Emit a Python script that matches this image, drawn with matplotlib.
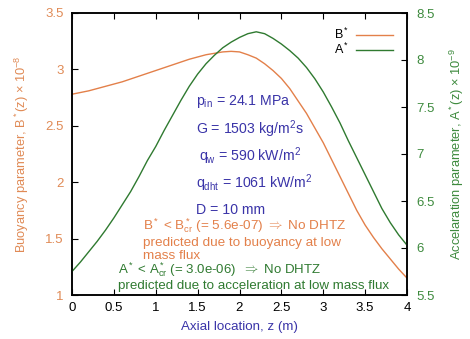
import matplotlib
matplotlib.use("Agg")
import matplotlib.pyplot as plt

plt.rcParams['font.family'] = ['Liberation Sans', 'DejaVu Sans']
plt.rcParams['mathtext.fontset'] = 'custom'
plt.rcParams['mathtext.rm'] = 'Liberation Sans'
plt.rcParams['mathtext.it'] = 'Liberation Sans'

z_b = [0, 0.2, 0.4, 0.6, 0.8, 1.0, 1.2, 1.4, 1.6, 1.8, 1.9, 2.0, 2.1, 2.2, 2.3, 2.4, 2.5,
       2.6, 2.7, 2.8, 2.9, 3.0, 3.1, 3.2, 3.3, 3.4, 3.5, 3.6, 3.7, 3.8, 3.9, 4.0]
b_vals = [2.78, 2.81, 2.85, 2.89, 2.94, 2.99, 3.04, 3.09, 3.13, 3.155, 3.16, 3.155, 3.13, 3.10, 3.05, 2.99, 2.92,
          2.83, 2.72, 2.61, 2.48, 2.35, 2.20, 2.05, 1.90, 1.75, 1.62, 1.51, 1.41, 1.32, 1.23, 1.15]
z_a = [0, 0.1, 0.2, 0.3, 0.4, 0.5, 0.6, 0.7, 0.8, 0.9, 1.0, 1.1, 1.2, 1.3, 1.4, 1.5, 1.6, 1.7, 1.8, 1.9, 2.0,
       2.1, 2.2, 2.3, 2.4, 2.5, 2.6, 2.7, 2.8, 2.9, 3.0, 3.1, 3.2, 3.3, 3.4, 3.5, 3.6, 3.7, 3.8, 3.9, 4.0]
a_vals = [5.75, 5.85, 5.96, 6.07, 6.19, 6.32, 6.46, 6.60, 6.76, 6.93, 7.08, 7.25, 7.41, 7.57, 7.72, 7.85, 7.96,
          8.05, 8.13, 8.19, 8.24, 8.28, 8.30, 8.28, 8.23, 8.17, 8.10, 8.02, 7.92, 7.80, 7.66, 7.50, 7.33,
          7.14, 6.96, 6.78, 6.60, 6.42, 6.27, 6.14, 6.03]

x_ticks = [0, 0.5, 1, 1.5, 2, 2.5, 3, 3.5, 4]
x_ticklabels = ['0', '0.5', '1', '1.5', '2', '2.5', '3', '3.5', '4']
b_ticks = [1, 1.5, 2, 2.5, 3, 3.5]
b_ticklabels = ['1', '1.5', '2', '2.5', '3', '3.5']
a_ticks = [5.5, 6, 6.5, 7, 7.5, 8, 8.5]
a_ticklabels = ['5.5', '6', '6.5', '7', '7.5', '8', '8.5']

orange = '#e3804a'
green = '#2f7a30'
blue = '#3a34a8'
tick_orange = '#e08a55'
tick_green = '#3d8a3d'

fig = plt.figure(figsize=(4.7, 3.39), dpi=100)
ax = fig.add_axes([72/470, 1-295/339, (407-72)/470, (295-13)/339])
ax2 = ax.twinx()

lb, = ax.plot(z_b, b_vals, color=orange, lw=1.0)
la, = ax2.plot(z_a, a_vals, color=green, lw=1.0)

ax.set_xlim(0, 4)
ax.set_ylim(1, 3.5)
ax2.set_ylim(5.5, 8.5)
ax.set_xticks(x_ticks)
ax.set_xticklabels(x_ticklabels)
ax.set_yticks(b_ticks)
ax.set_yticklabels(b_ticklabels)
ax2.set_yticks(a_ticks)
ax2.set_yticklabels(a_ticklabels)

ax.tick_params(axis='x', direction='in', top=True, length=4, labelsize=9.5, colors='black', pad=5)
ax.tick_params(axis='y', direction='in', length=4, labelsize=9.5, labelcolor=tick_orange, pad=6)
ax2.tick_params(axis='y', direction='in', length=4, labelsize=9.5, labelcolor=tick_green, pad=6.5)
for a in (ax, ax2):
    for s in a.spines.values():
        s.set_linewidth(1.1)

ax.set_xlabel('Axial location, z (m)', color=blue, fontsize=9.6, labelpad=5)
ax.set_ylabel(r'Buoyancy parameter, B$^*$(z) $\times$ 10$^{-8}$', color=tick_orange, fontsize=9.3, labelpad=10)
ax2.set_ylabel(r'Accelaration parameter, A$^*$(z) $\times$ 10$^{-9}$', color=tick_green, fontsize=9.3, labelpad=10)

# legend
ax.legend([lb, la], [r'B$^*$', r'A$^*$'], loc='upper right', frameon=False,
          fontsize=9, markerfirst=False, handlelength=3.0, handletextpad=0.5,
          labelspacing=0.0, borderaxespad=0.9, borderpad=0.2)

def px(x, y):
    return (x/470, 1 - y/339)

params = [r'p$_{\rm in}$ = 24.1 MPa', r'G = 1503 kg/m$^2$s', r'q$_{\rm w}$ = 590 kW/m$^2$',
          r'q$_{\rm dht}$ = 1061 kW/m$^2$', 'D = 10 mm']
ys = [102, 129, 156, 183, 210]
xs = [196, 196, 199, 196, 196]
for t, x, y in zip(params, xs, ys):
    fig.text(*px(x, y), t, color=blue, fontsize=10.2, va='center', ha='left')

fig.text(*px(143, 226), r'B$^*$ < B$^*_{\rm cr}$ (= 5.6e-07) $\Rightarrow$ No DHTZ', color=orange, fontsize=9.7, va='center')
fig.text(*px(143, 243), 'predicted due to buoyancy at low', color=orange, fontsize=9.7, va='center')
fig.text(*px(143, 256), 'mass flux', color=orange, fontsize=9.7, va='center')
fig.text(*px(118, 270), r'A$^*$ < A$^*_{\rm cr}$ (= 3.0e-06)  $\Rightarrow$ No DHTZ', color=green, fontsize=9.5, va='center')
fig.text(*px(118, 286), 'predicted due to acceleration at low mass flux', color=green, fontsize=9.6, va='center')

fig.savefig('out.png', dpi=100)
